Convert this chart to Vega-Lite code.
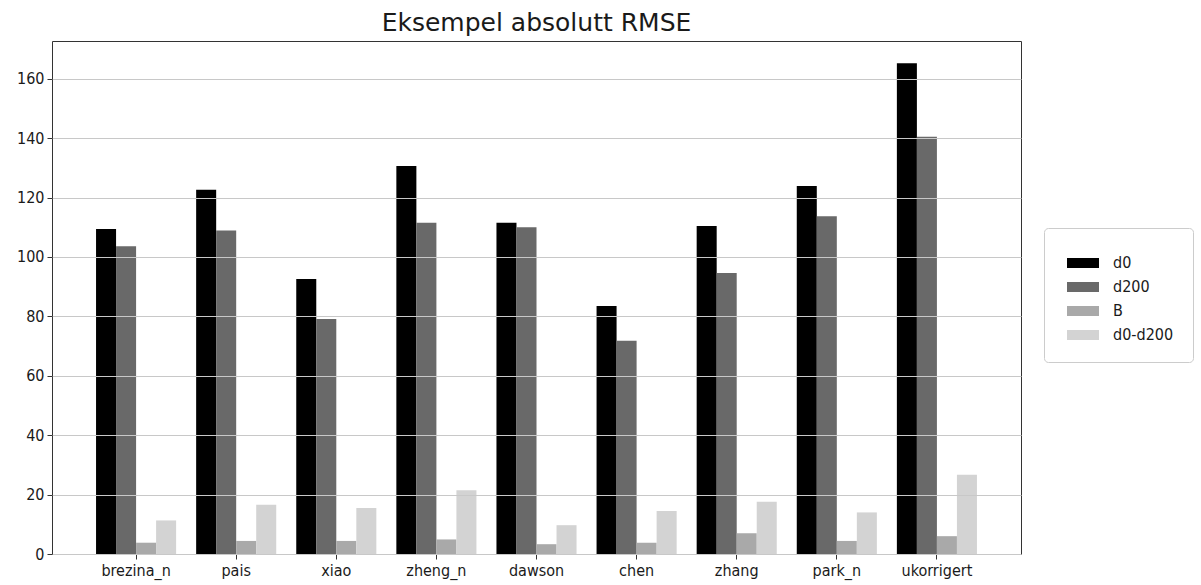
{
  "$schema": "https://vega.github.io/schema/vega-lite/v6.json",
  "autosize": "none",
  "width": 969,
  "height": 513,
  "padding": {"left": 52, "top": 41, "right": 180, "bottom": 31},
  "background": "white",
  "title": {
    "text": "Eksempel absolutt RMSE",
    "font": "DejaVu Sans",
    "fontSize": 25,
    "fontWeight": "normal",
    "color": "#1a1a1a",
    "anchor": "middle",
    "baseline": "bottom",
    "frame": "group",
    "offset": -20
  },
  "config": {
    "view": {"stroke": "#333333", "strokeWidth": 1},
    "font": "DejaVu Sans Condensed"
  },
  "data": {
    "values": [
      {"method": "brezina_n", "series": "d0", "value": 109.4},
      {"method": "brezina_n", "series": "d200", "value": 103.6},
      {"method": "brezina_n", "series": "B", "value": 3.8},
      {"method": "brezina_n", "series": "d0-d200", "value": 11.3},
      {"method": "pais", "series": "d0", "value": 122.6},
      {"method": "pais", "series": "d200", "value": 108.9},
      {"method": "pais", "series": "B", "value": 4.4},
      {"method": "pais", "series": "d0-d200", "value": 16.6},
      {"method": "xiao", "series": "d0", "value": 92.6},
      {"method": "xiao", "series": "d200", "value": 79.1},
      {"method": "xiao", "series": "B", "value": 4.4},
      {"method": "xiao", "series": "d0-d200", "value": 15.5},
      {"method": "zheng_n", "series": "d0", "value": 130.6},
      {"method": "zheng_n", "series": "d200", "value": 111.5},
      {"method": "zheng_n", "series": "B", "value": 4.9},
      {"method": "zheng_n", "series": "d0-d200", "value": 21.5},
      {"method": "dawson", "series": "d0", "value": 111.5},
      {"method": "dawson", "series": "d200", "value": 110.0},
      {"method": "dawson", "series": "B", "value": 3.3},
      {"method": "dawson", "series": "d0-d200", "value": 9.7},
      {"method": "chen", "series": "d0", "value": 83.5},
      {"method": "chen", "series": "d200", "value": 71.8},
      {"method": "chen", "series": "B", "value": 3.8},
      {"method": "chen", "series": "d0-d200", "value": 14.5},
      {"method": "zhang", "series": "d0", "value": 110.4},
      {"method": "zhang", "series": "d200", "value": 94.6},
      {"method": "zhang", "series": "B", "value": 7.0},
      {"method": "zhang", "series": "d0-d200", "value": 17.6},
      {"method": "park_n", "series": "d0", "value": 123.9},
      {"method": "park_n", "series": "d200", "value": 113.7},
      {"method": "park_n", "series": "B", "value": 4.4},
      {"method": "park_n", "series": "d0-d200", "value": 14.0},
      {"method": "ukorrigert", "series": "d0", "value": 165.2},
      {"method": "ukorrigert", "series": "d200", "value": 140.5},
      {"method": "ukorrigert", "series": "B", "value": 6.0},
      {"method": "ukorrigert", "series": "d0-d200", "value": 26.7}
    ]
  },
  "mark": {"type": "bar"},
  "encoding": {
    "x": {
      "field": "method",
      "type": "nominal",
      "sort": null,
      "scale": {"paddingInner": 0.2, "paddingOuter": 0.44},
      "axis": {
        "title": null,
        "labelAngle": 0,
        "labelFontSize": 16,
        "labelColor": "#1a1a1a",
        "labelPadding": 3,
        "tickSize": 5,
        "tickColor": "#333333",
        "domain": false,
        "grid": false
      }
    },
    "xOffset": {
      "field": "series",
      "type": "nominal",
      "sort": ["d0", "d200", "B", "d0-d200"],
      "scale": {"paddingInner": 0, "paddingOuter": 0}
    },
    "y": {
      "field": "value",
      "type": "quantitative",
      "scale": {"domain": [0, 172.7], "nice": false},
      "axis": {
        "title": null,
        "values": [0, 20, 40, 60, 80, 100, 120, 140, 160],
        "labelFontSize": 16,
        "labelColor": "#1a1a1a",
        "labelPadding": 3,
        "tickSize": 5,
        "tickColor": "#333333",
        "domain": false,
        "grid": true,
        "gridColor": "#c8c8c8",
        "gridWidth": 1,
        "zindex": 1
      }
    },
    "color": {
      "field": "series",
      "type": "nominal",
      "sort": ["d0", "d200", "B", "d0-d200"],
      "scale": {
        "domain": ["d0", "d200", "B", "d0-d200"],
        "range": ["#000000", "#696969", "#a9a9a9", "#d3d3d3"]
      },
      "legend": {
        "title": null,
        "orient": "none",
        "legendX": 992,
        "legendY": 187,
        "padding": 19,
        "symbolOffset": 4,
        "symbolType": "M-1,-0.3125H1V0.3125H-1Z",
        "symbolSize": 1024,
        "symbolStrokeWidth": 0,
        "symbolOpacity": 1,
        "labelOffset": 14,
        "labelFontSize": 16,
        "labelColor": "#1a1a1a",
        "rowPadding": -8.5,
        "strokeColor": "#cccccc",
        "fillColor": "#ffffff",
        "cornerRadius": 4
      }
    }
  }
}
